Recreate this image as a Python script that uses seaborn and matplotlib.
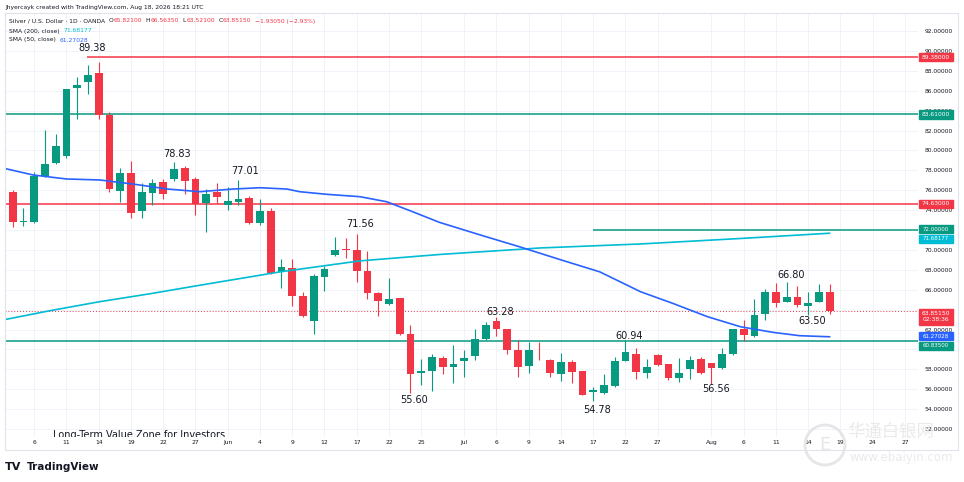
import matplotlib
matplotlib.use("Agg")
import matplotlib.pyplot as plt
import matplotlib.transforms as mtransforms
from matplotlib.patches import Rectangle, Ellipse
import pandas as pd
import seaborn as sns

# daily candles, bar 0 = first visible bar
opens = [75.8, 72.85, 72.8, 77.4, 78.7, 79.4, 86.3, 86.9, 87.8, 83.6,
         75.95, 77.7, 73.95, 75.75, 76.8, 77.1, 78.25, 77.15, 74.7, 75.85,
         74.5, 74.85, 75.25, 72.75, 73.9, 67.8, 68.15, 65.4, 62.9, 67.3,
         69.45, 70.1, 70.0, 67.9, 65.7, 64.55, 65.15, 61.6, 57.6, 57.85,
         59.1, 58.25, 58.85, 59.35, 61.0, 62.85, 62.05, 59.95, 58.35, 59.95,
         58.95, 57.55, 58.75, 57.85, 55.75, 55.6, 56.3, 58.85, 59.55, 57.6,
         59.45, 58.5, 57.1, 58.0, 59.0, 58.65, 58.1, 59.55, 62.1, 61.4,
         63.55, 65.8, 64.8, 65.3, 64.35, 64.8, 65.821]
highs = [76.0, 74.2, 77.8, 82.1, 81.7, 86.2, 87.35, 88.6, 88.9, 83.9,
         78.2, 78.9, 76.7, 77.1, 77.1, 78.83, 78.45, 77.35, 76.1, 76.7,
         76.35, 77.01, 75.4, 75.1, 74.25, 69.05, 69.05, 65.75, 67.6, 68.4,
         71.3, 71.15, 71.56, 69.9, 65.8, 67.15, 65.15, 62.45, 59.0, 59.5,
         59.3, 60.45, 59.95, 62.05, 62.8, 63.28, 62.1, 60.95, 60.7, 60.7,
         59.0, 59.65, 58.9, 57.85, 56.25, 57.5, 59.25, 60.94, 60.1, 59.0,
         59.5, 58.5, 59.1, 59.35, 59.25, 58.65, 60.1, 62.05, 62.95, 65.1,
         66.05, 66.65, 66.8, 66.35, 65.8, 66.55, 66.5635]
lows = [72.3, 72.45, 72.75, 77.3, 78.6, 79.2, 83.2, 85.7, 83.2, 75.85,
        74.85, 73.2, 73.2, 74.5, 75.1, 76.9, 75.6, 73.5, 71.8, 74.75,
        74.0, 74.5, 72.6, 72.5, 67.6, 66.2, 64.4, 63.3, 61.6, 65.9,
        69.4, 69.15, 66.8, 65.1, 63.35, 64.5, 61.5, 55.6, 56.4, 55.85,
        57.5, 56.65, 57.2, 58.9, 60.95, 61.4, 59.5, 57.2, 57.65, 58.9,
        57.2, 56.85, 56.65, 55.4, 54.78, 55.55, 56.25, 58.8, 57.0, 57.1,
        58.35, 56.9, 56.75, 57.0, 57.5, 56.56, 58.0, 59.45, 60.85, 61.2,
        63.0, 64.25, 64.75, 64.25, 63.5, 64.75, 63.521]
closes = [72.8, 72.95, 77.4, 78.6, 80.4, 86.2, 86.6, 87.6, 83.6, 76.1,
          77.7, 73.75, 75.85, 76.7, 75.6, 78.1, 76.95, 74.6, 75.6, 75.3,
          74.9, 75.1, 72.75, 73.9, 67.7, 68.25, 65.4, 63.4, 67.4, 68.1,
          70.0, 70.0, 67.9, 65.7, 64.9, 65.05, 61.6, 57.5, 57.85, 59.2,
          58.25, 58.55, 59.15, 61.0, 62.45, 62.05, 59.95, 58.25, 59.95, 59.9,
          57.65, 58.7, 57.75, 55.45, 55.9, 56.4, 58.85, 59.75, 57.7, 58.2,
          58.4, 57.15, 57.65, 58.95, 57.6, 58.15, 59.5, 62.05, 61.45, 63.5,
          65.75, 64.7, 65.3, 64.45, 64.7, 65.75, 63.8515]

# moving averages (bar index, price)
sma50_x = [-1.2, 1.9, 5.0, 8.1, 11.2, 14.4, 17.4, 20.5, 23.0, 25.5, 26.7,
           29.2, 32.3, 34.8, 37.2, 39.7, 43.5, 47.2, 51.0, 54.6, 58.4,
           61.4, 64.6, 67.7, 70.7, 73.2, 76.0]
sma50_y = [78.3, 77.53, 77.13, 77.03, 76.62, 76.12, 75.85, 76.12, 76.25, 76.12, 75.85,
           75.59, 75.35, 74.84, 73.84, 72.77, 71.5, 70.3, 69.0, 67.8, 65.8,
           64.63, 63.3, 62.28, 61.72, 61.38, 61.27]
sma200_x = [-1.2, 3.5, 8.1, 12.8, 17.4, 24.9, 32.3, 39.8, 49.1, 58.4, 67.7, 76.0]
sma200_y = [62.9, 63.9, 64.8, 65.6, 66.45, 67.8, 68.9, 69.55, 70.2, 70.6, 71.15, 71.68]

tick_pos = [2, 5, 8, 11, 14, 17, 20, 23, 26, 29, 32, 35, 38, 42, 45, 48, 51,
            54, 57, 60, 65, 68, 71, 74, 77, 80, 83]
tick_text = ["6", "11", "14", "19", "22", "27", "Jun", "4", "9", "12", "17", "22",
             "25", "Jul", "6", "9", "14", "17", "22", "27", "Aug", "6", "11", "14",
             "19", "24", "27"]
price_ticks = list(range(52, 94, 2))
hidden_ticks = [60, 64, 72]   # covered by the price boxes

ann_text = ["89.38", "78.83", "77.01", "71.56", "55.60", "63.28", "54.78",
            "60.94", "56.56", "66.80", "63.50"]
ann_x = [7.4, 15.3, 21.6, 32.3, 37.3, 45.3, 54.4, 57.3, 65.4, 72.4, 74.4]
ann_y = [90.3, 79.6, 77.93, 72.6, 54.9, 63.8, 53.9, 61.35, 56.0, 67.5, 62.85]

RED = "#f23645"
GREEN = "#089981"
BLUE = "#2962ff"
CYAN = "#00bcd4"
INK = "#131722"

df = pd.DataFrame({"open": opens, "high": highs, "low": lows, "close": closes})
df["bar"] = range(len(df))
df["up"] = df["close"] >= df["open"]
df["color"] = df["up"].map({True: GREEN, False: RED})

sns.set_theme(style="white")
plt.rcParams["font.family"] = ["DejaVu Sans"]

W, H = 964, 482
fig = plt.figure(figsize=(W / 100, H / 100), dpi=100)
ax = fig.add_axes([5 / W, 1 - 437 / H, 913 / W, 424 / H])
ax.set_xlim(-0.716, 84.21)
ax.set_ylim(51.2, 93.81)
for s in ax.spines.values():
    s.set_visible(False)

# grid
for p in tick_pos:
    ax.axvline(p, color="#f0f3fa", lw=0.7, zorder=0)
for v in price_ticks:
    ax.axhline(v, color="#f0f3fa", lw=0.7, zorder=0)

# candles
body = (df["close"] - df["open"]).abs().clip(lower=0.08)
bottom = df[["open", "close"]].min(axis=1)
ax.vlines(df["bar"], df["low"], df["high"], colors=df["color"], lw=0.8, zorder=3)
ax.bar(df["bar"], body, bottom=bottom, width=0.72, color=df["color"], lw=0, zorder=4)

# moving averages
sns.lineplot(x=sma200_x, y=sma200_y, ax=ax, color=CYAN, lw=1.2, zorder=5)
sns.lineplot(x=sma50_x, y=sma50_y, ax=ax, color=BLUE, lw=1.2, zorder=5)

# horizontal levels
ax.hlines(89.38, 6.9, 84.21, color=RED, lw=1.1, zorder=2)
ax.axhline(83.61, color=GREEN, lw=1.1, zorder=2)
ax.axhline(74.63, color=RED, lw=1.1, zorder=2)
ax.hlines(72.0, 54.0, 84.21, color=GREEN, lw=1.1, zorder=2)
ax.axhline(60.835, color=GREEN, lw=1.1, zorder=2)
ax.axhline(63.8515, color=RED, lw=0.7, ls=(0, (1, 2)), zorder=2)

for t, x, y in zip(ann_text, ann_x, ann_y):
    ax.text(x, y, t, ha="center", va="center", fontsize=7, color=INK, zorder=6)
ax.text(11.8, 51.4, "Long-Term Value Zone for Investors", ha="center", va="center",
        fontsize=7, color=INK, zorder=6, clip_on=True)

# axes ticks
ax.set_xticks(tick_pos)
ax.set_xticklabels(tick_text)
ax.yaxis.tick_right()
ax.set_yticks(price_ticks)
ax.set_yticklabels(["" if v in hidden_ticks else f"{v:.5f}" for v in price_ticks])
ax.tick_params(axis="x", length=0, pad=2.5, labelsize=4.3, colors=INK)
ax.tick_params(axis="y", length=0, pad=5, labelsize=4.3, colors=INK)
ax.set_xlabel("")
ax.set_ylabel("")

# price boxes on the right scale
btr = mtransforms.blended_transform_factory(ax.transAxes, ax.transData)
bx0, bw, bxc = (919 - 5) / 913, 34 / 913, (936 - 5) / 913


def price_box(y, text, color, h=0.82, size=4.3):
    ax.add_patch(Rectangle((bx0, y - h / 2), bw, h, transform=btr, color=color,
                           clip_on=False, zorder=7))
    ax.text(bxc, y, text, transform=btr, ha="center", va="center", fontsize=size,
            color="white", clip_on=False, zorder=8, linespacing=1.2)


price_box(89.38, "89.38000", RED)
price_box(83.61, "83.61000", GREEN)
price_box(74.63, "74.63000", RED)
price_box(72.1, "72.00000", GREEN, h=0.85, size=4.0)
price_box(71.1, "71.68177", CYAN, h=0.85, size=4.0)
price_box(63.3, "63.85150\n02:38:36", RED, h=1.6)
price_box(61.33, "61.27028", BLUE, h=0.85, size=4.0)
price_box(60.35, "60.83500", GREEN, h=0.85, size=4.0)


# legend lines
def chain(parts, y):
    prev = ax.text(4 / 913, y, parts[0][0], transform=ax.transAxes, fontsize=4.3,
                   color=parts[0][1], va="center", zorder=8)
    for s, c, gap in parts[1:]:
        prev = ax.annotate(s, xy=(1, 0.5), xycoords=prev, xytext=(gap, 0),
                           textcoords="offset points", va="center", fontsize=4.3,
                           color=c, zorder=8)


chain([("Silver / U.S. Dollar · 1D · OANDA", INK), ("O", INK, 2.5), ("65.82100", RED, 0.3),
       ("H", INK, 2.5), ("66.56350", RED, 0.3), ("L", INK, 2.5), ("63.52100", RED, 0.3),
       ("C", INK, 2.5), ("63.85150", RED, 0.3), ("\u22121.93050 (\u22122.93%)", RED, 2.5)],
      1 - 8 / 424)
chain([("SMA (200, close)", INK), ("71.68177", CYAN, 3)], 1 - 18 / 424)
chain([("SMA (50, close)", INK), ("61.27028", BLUE, 3)], 1 - 27 / 424)

# frame, header, branding
fig.add_artist(Rectangle((5 / W, 1 - 450 / H), 953 / W, 437 / H, transform=fig.transFigure,
                         fill=False, ec="#e0e3eb", lw=0.8))
fig.text(5 / W, 1 - 7 / H, "Jhyercayk created with TradingView.com, Aug 18, 2026 18:21 UTC",
         fontsize=4.3, color=INK, va="center")
fig.text(5 / W, 1 - 467 / H, "TV", fontsize=8, fontweight="heavy", color=INK, va="center")
fig.text(27 / W, 1 - 467 / H, "TradingView", fontsize=7.5, fontweight="bold", color=INK,
         va="center")

# watermark
fig.add_artist(Ellipse((825 / W, 1 - 445 / H), 40 / W, 40 / H, transform=fig.transFigure,
                       fill=False, ec="#e6e6e6", lw=2))
fig.text(825 / W, 1 - 445 / H, "E", fontsize=13, color="#e6e6e6", ha="center", va="center")
fig.text(847 / W, 1 - 432 / H, "华通白银网", fontsize=12.5, color="#eaeaea", va="center",
         family=["Noto Sans CJK SC", "DejaVu Sans"])
fig.text(850 / W, 1 - 458 / H, "www.ebaiyin.com", fontsize=8.5, color="#eaeaea", va="center")

fig.savefig("out.png", dpi=100)
